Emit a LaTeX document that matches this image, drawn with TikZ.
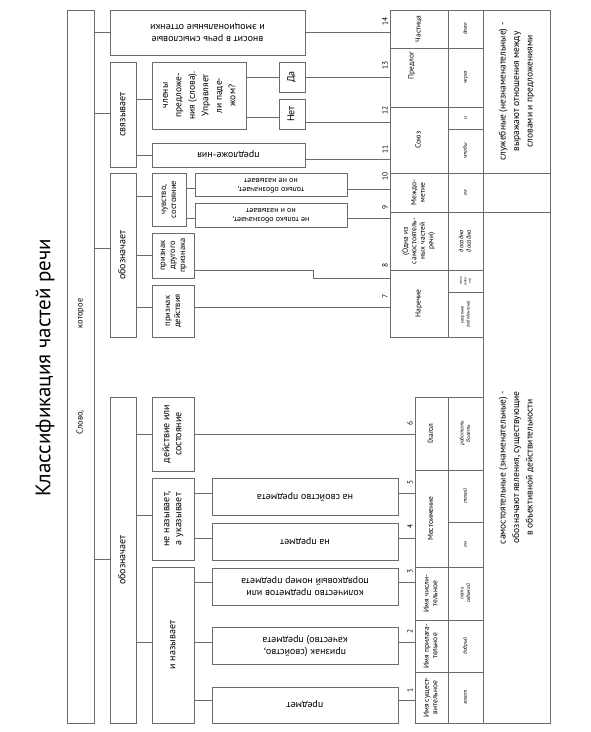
\documentclass[tikz,border=0pt]{standalone}
\usepackage{fontspec}
\setmainfont{PT Sans}
\definecolor{rule}{gray}{0.42}
\newcommand\up[1]{\rotatebox{90}{\begin{tabular}{@{}c@{}}#1\end{tabular}}}
\newcommand\dn[1]{\rotatebox{180}{\begin{tabular}{@{}c@{}}#1\end{tabular}}}
\begin{document}
\begin{tikzpicture}[x=1pt,y=-1pt,line width=0.7pt,
	box/.style={draw=rule,inner sep=0pt,font=\fontsize{10}{12}\selectfont},
	cell/.style={draw=rule,inner sep=0pt,font=\fontsize{7.5}{8.5}\selectfont},
	ex/.style={cell,font=\fontsize{5.5}{6.5}\selectfont\itshape},
	num/.style={inner sep=0pt,font=\fontsize{7.5}{8}\selectfont},
	wire/.style={draw=rule}]
	\useasboundingbox (0,0) rectangle (591,732);
	
	\node[font=\fontsize{21}{25}\selectfont] (title) at (45,368) {\rotatebox{90}{Классификация частей речи}};
	\node[box,minimum width=27,minimum height=713,font=\fontsize{8.5}{10}\selectfont] (word) at (80.5,366.5) {\up{Слово,\hspace{82pt}которое}};
	
	% second level
	\node[box,minimum width=195,minimum height=45] (part) at (207.5,32.5) {\dn{вносит в речь смысловые\\и эмоциональные оттенки}};
	\node[box,minimum width=26,minimum height=105] (link) at (123,114.5) {\up{связывает}};
	\node[box,minimum width=26,minimum height=164] (mark) at (123,255) {\up{обозначает}};
	\node[box,minimum width=26,minimum height=326] (mean) at (123,560) {\up{обозначает}};
	
	% third level
	\node[box,minimum width=94,minimum height=67,font=\fontsize{9.5}{13.5}\selectfont] (memb) at (199,95.5) {\up{члены\\предложе-\\ния (слова).\\Управляет\\ли паде-\\жом?}};
	\node[box,minimum width=26,minimum height=30] (yes) at (292,77) {\up{Да}};
	\node[box,minimum width=26,minimum height=30] (no) at (292,114) {\up{Нет}};
	\node[box,minimum width=153,minimum height=24] (sent) at (228.5,155) {\dn{предложе-ния}};
	\node[box,minimum width=34,minimum height=53,font=\fontsize{8.5}{10}\selectfont] (feel) at (169,199.5) {\up{чувство,\\состояние}};
	\node[box,minimum width=152,minimum height=23,font=\fontsize{8}{9}\selectfont] (only) at (271,184.5) {\dn{только обозначает,\\но не называет}};
	\node[box,minimum width=152,minimum height=24,font=\fontsize{8}{9}\selectfont] (both) at (271,215) {\dn{не только обозначает,\\но и называет}};
	\node[box,minimum width=42,minimum height=45,font=\fontsize{8.5}{10}\selectfont] (qual) at (173,255.5) {\up{признак\\другого\\признака}};
	\node[box,minimum width=42,minimum height=52,font=\fontsize{8.5}{10}\selectfont] (act) at (173,311) {\up{признак\\действия}};
	\node[box,minimum width=42,minimum height=74] (verb) at (173,434) {\up{действие или\\состояние}};
	\node[box,minimum width=42,minimum height=82] (point) at (173,519) {\up{не называет,\\а указывает}};
	\node[box,minimum width=42,minimum height=156] (name) at (173,645) {\up{и называет}};
	
	\node[box,minimum width=186,minimum height=37] (b5) at (305,496.5) {\dn{на свойство предмета}};
	\node[box,minimum width=186,minimum height=37] (b4) at (305,541.5) {\dn{на предмет}};
	\node[box,minimum width=186,minimum height=37] (b3) at (305,586.5) {\dn{количество предметов или\\порядковый номер предмета}};
	\node[box,minimum width=186,minimum height=37] (b2) at (305,645.5) {\dn{признак (свойство,\\качество) предмета}};
	\node[box,minimum width=186,minimum height=36] (b1) at (305,705) {\dn{предмет}};
	
	% table, upper part
	\node[cell,minimum width=58,minimum height=38] (tCh) at (419,29) {\up{Частица}};
	\node[cell,minimum width=58,minimum height=59] (tPr) at (419,77.5) {\up{\hspace{24pt}Предлог\\[14pt]}};
	\node[cell,minimum width=58,minimum height=66] (tSo) at (419,140) {\up{Союз}};
	\node[cell,minimum width=58,minimum height=39] (tMe) at (419,192.5) {\up{Междо-\\метие}};
	\node[cell,minimum width=58,minimum height=58] (tKs) at (419,241) {\up{(Одна из\\самостоятель-\\ных частей\\речи)}};
	\node[cell,minimum width=58,minimum height=67] (tNa) at (419,303.5) {\up{Наречие}};
	\node[ex,minimum width=35,minimum height=38] (eCh) at (465.5,29) {\up{даже}};
	\node[ex,minimum width=35,minimum height=59] (ePr) at (465.5,77.5) {\up{через}};
	\node[ex,minimum width=35,minimum height=22] (eSo1) at (465.5,118) {\up{и}};
	\node[ex,minimum width=35,minimum height=44] (eSo2) at (465.5,151) {\up{чтобы}};
	\node[ex,minimum width=35,minimum height=39] (eMe) at (465.5,192.5) {\up{ах}};
	\node[ex,minimum width=35,minimum height=58,font=\fontsize{6.5}{7.5}\selectfont\itshape] (eKs) at (465.5,241) {\up{досадно\\досадно}};
	\node[ex,minimum width=35,minimum height=22,font=\fontsize{3.5}{4.5}\selectfont\itshape] (eNa1) at (465.5,281) {\up{тихо\\(вдво-\\ем)}};
	\node[ex,minimum width=35,minimum height=45,font=\fontsize{4.5}{6}\selectfont\itshape] (eNa2) at (465.5,314.5) {\up{уверенно\\(победоносно)}};
	\node[cell,minimum width=67,minimum height=163,font=\fontsize{9.5}{13.5}\selectfont] (dSl) at (516.5,91.5) {\up{служебные (незнаменательные) -\\выражают отношения между\\словами и предложениями}};
	\node[cell,minimum width=67,minimum height=39] (dEm) at (516.5,192.5) {};
	\node[cell,minimum width=67,minimum height=511,font=\fontsize{9.5}{13.5}\selectfont] (dSa) at (516.5,467.5) {\up{самостоятельные (знаменательные) -\\обозначают явления, существующие\\в объективной действительности}};
	
	% table, lower part
	\node[cell,minimum width=33,minimum height=73] (tGl) at (431.5,433.5) {\up{Глагол}};
	\node[cell,minimum width=33,minimum height=97] (tMs) at (431.5,518.5) {\up{Местоимение}};
	\node[cell,minimum width=33,minimum height=53] (tCi) at (431.5,593.5) {\up{Имя числи-\\тельное}};
	\node[cell,minimum width=33,minimum height=52] (tPl) at (431.5,646) {\up{Имя прилага-\\тельное}};
	\node[cell,minimum width=33,minimum height=51] (tSu) at (431.5,697.5) {\up{Имя сущест-\\вительное}};
	\node[ex,minimum width=35,minimum height=73] (eGl) at (465.5,433.5) {\up{работать\\болеть}};
	\node[ex,minimum width=35,minimum height=52] (eMs1) at (465.5,496) {\up{такой}};
	\node[ex,minimum width=35,minimum height=45] (eMs2) at (465.5,544.5) {\up{он}};
	\node[ex,minimum width=35,minimum height=53] (eCi) at (465.5,593.5) {\up{пять\\седьмой}};
	\node[ex,minimum width=35,minimum height=52] (ePl) at (465.5,646) {\up{добрый}};
	\node[ex,minimum width=35,minimum height=51] (eSu) at (465.5,697.5) {\up{закат}};
	
	\foreach \n/\y in {14/21,13/65,12/110,11/149,10/176,9/207,8/265,7/296}
	\node[num] (n\n) at (385,\y) {\rotatebox{90}{\n}};
	\foreach \n/\y in {6/423,5/482,4/526,3/571,2/631,1/690}
	\node[num] (n\n) at (410,\y) {\rotatebox{90}{\n}};
	
	% tree
	\draw[wire] (word.east |- part.west) -- (part.west);
	\draw[wire] (word.east |- 0,113) -- (link.west |- 0,113);
	\draw[wire] (word.east |- 0,248) -- (mark.west |- 0,248);
	\draw[wire] (word.east |- 0,559) -- (mean.west |- 0,559);
	\draw[wire] (link.east |- 0,99) -- (memb.west |- 0,99);
	\draw[wire] (link.east |- sent.west) -- (sent.west);
	\draw[wire] (memb.east |- yes.west) -- (yes.west);
	\draw[wire] (memb.east |- 0,117) -- (no.west |- 0,117);
	\draw[wire] (mark.east |- 0,196) -- (feel.west |- 0,196);
	\draw[wire] (feel.east |- 0,188) -- (only.west |- 0,188);
	\draw[wire] (feel.east |- 0,218) -- (both.west |- 0,218);
	\draw[wire] (mark.east |- qual.west) -- (qual.west);
	\draw[wire] (mark.east |- 0,307) -- (act.west |- 0,307);
	\draw[wire] (mean.east |- verb.west) -- (verb.west);
	\draw[wire] (mean.east |- 0,515) -- (point.west |- 0,515);
	\draw[wire] (mean.east |- 0,642) -- (name.west |- 0,642);
	\draw[wire] (point.east |- 0,493) -- (b5.west |- 0,493);
	\draw[wire] (point.east |- 0,538) -- (b4.west |- 0,538);
	\draw[wire] (name.east |- 0,582) -- (b3.west |- 0,582);
	\draw[wire] (name.east |- 0,642) -- (b2.west |- 0,642);
	\draw[wire] (name.east |- 0,700) -- (b1.west |- 0,700);
	
	% into the table
	\draw[wire] (part.east) -- (part.east -| tCh.west);
	\draw[wire] (yes.east) -- (yes.east -| tPr.west);
	\draw[wire] (no.east |- 0,122) -- (tSo.west |- 0,122);
	\draw[wire] (sent.east |- 0,159) -- (tSo.west |- 0,159);
	\draw[wire] (only.east |- 0,189) -- (tMe.west |- 0,189);
	\draw[wire] (both.east |- 0,218) -- (tKs.west |- 0,218);
	\draw[wire] (qual.east |- 0,270) -| (313,278) -- (tNa.west |- 0,278);
	\draw[wire] (act.east |- 0,307) -- (tNa.west |- 0,307);
	\draw[wire] (verb.east) -- (verb.east -| tGl.west);
	\draw[wire] (b5.east |- 0,493) -- (tMs.west |- 0,493);
	\draw[wire] (b4.east |- 0,538) -- (tMs.west |- 0,538);
	\draw[wire] (b3.east |- 0,582) -- (tCi.west |- 0,582);
	\draw[wire] (b2.east |- 0,642) -- (tPl.west |- 0,642);
	\draw[wire] (b1.east |- 0,700) -- (tSu.west |- 0,700);
\end{tikzpicture}
\end{document}
